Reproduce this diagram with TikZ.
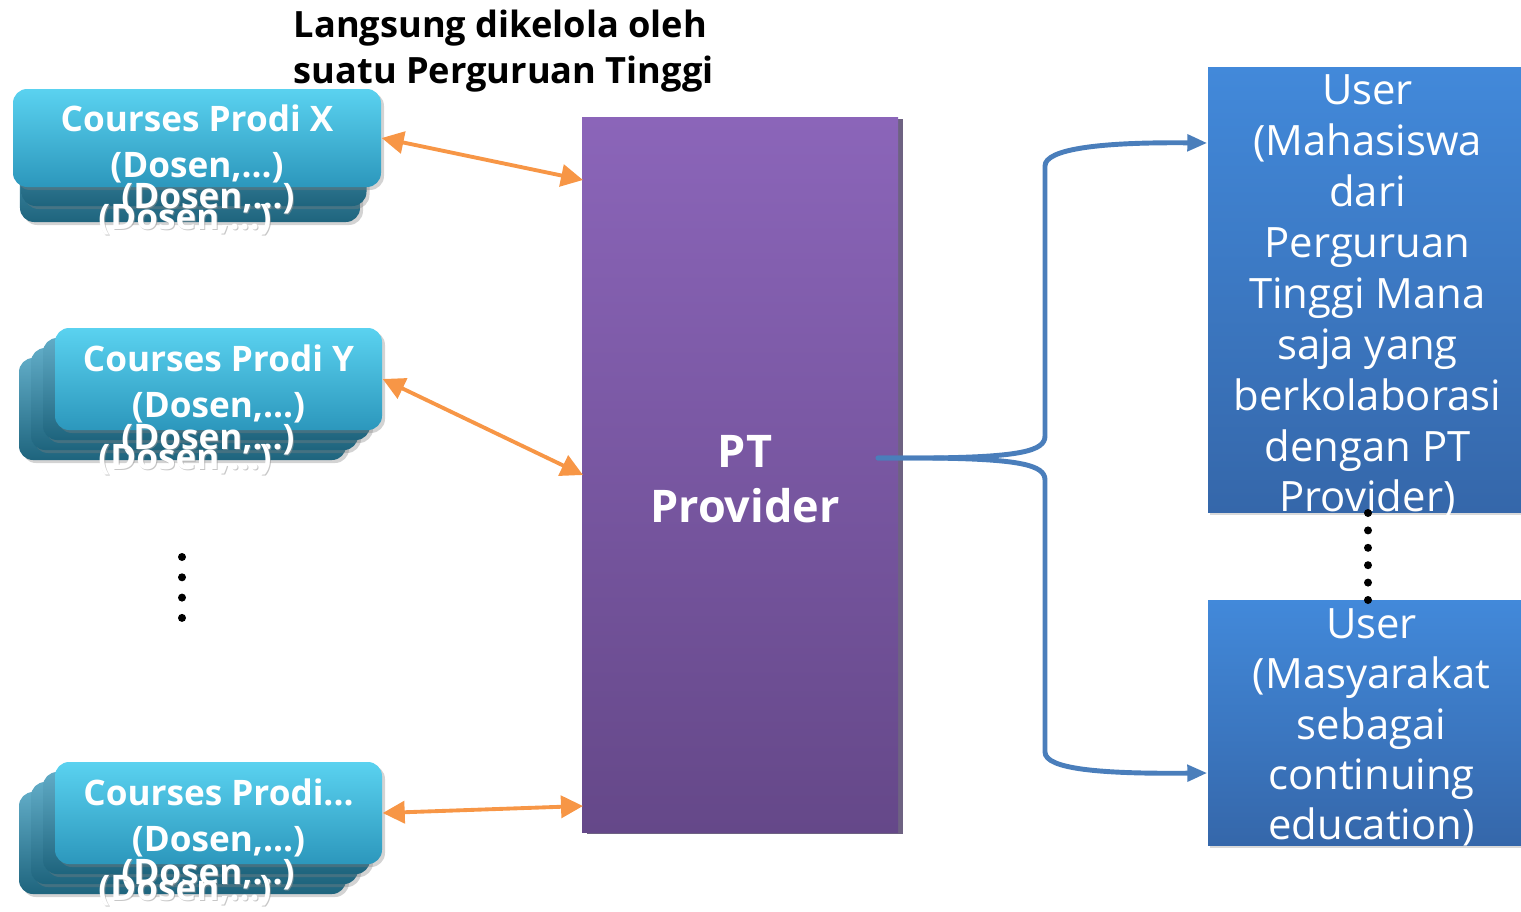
\documentclass[tikz,border=0pt]{standalone}
\usepackage{fontspec}
\setmainfont{Open Sans}
\usetikzlibrary{arrows.meta,calc,positioning,shadows}
\definecolor{courseTop}{HTML}{5AD2F0}
\definecolor{courseBot}{HTML}{2C97BC}
\definecolor{courseBack}{HTML}{2B8FB3}
\definecolor{ptTop}{HTML}{8B65B9}
\definecolor{ptBot}{HTML}{654889}
\definecolor{ptEdge}{HTML}{4A3B63}
\definecolor{userTop}{HTML}{4289DA}
\definecolor{userBot}{HTML}{3567AA}
\definecolor{linkOrange}{HTML}{F79646}
\definecolor{linkBlue}{HTML}{4A7EBB}
\tikzset{
    course diagram/.style = {>={Triangle[length=2.2mm, width=2.2mm]}},
    course font/.style    = {font=\fontsize{10}{13}\selectfont\bfseries},
    course box/.style     = {rounded corners=4pt,
                             top color=courseTop, bottom color=courseBot,
                             minimum width=3.27cm, minimum height=1.02cm,
                             inner sep=0pt,
                             drop shadow={shadow xshift=0.03cm,
                                          shadow yshift=-0.03cm, opacity=0.35}},
    back box/.style       = {course box, top color=courseBack!75!white,
                             bottom color=courseBack!70!black},
    course text/.style    = {course font, text=white, align=center, inner sep=0pt},
    ghost/.style          = {course font, text=white, inner sep=0pt},
    ghost shade/.style    = {course font, text=black!40, opacity=0.55, inner sep=0pt},
    provider/.style       = {top color=ptTop, bottom color=ptBot,
                             minimum width=3.16cm, minimum height=7.15cm,
                             inner sep=0pt,
                             drop shadow={shadow xshift=0.045cm,
                                          shadow yshift=-0.015cm, opacity=0.8,
                                          fill=ptEdge}},
    provider text/.style  = {text=white, align=center, inner sep=0pt,
                             font=\fontsize{12.8}{15.6}\selectfont\bfseries},
    user/.style           = {top color=userTop, bottom color=userBot,
                             minimum width=3.13cm, inner sep=0pt,
                             drop shadow={shadow xshift=0.02cm,
                                          shadow yshift=-0.03cm, opacity=0.3}},
    user text/.style      = {text=white, align=center, inner sep=0pt},
    headline/.style       = {font=\fontsize{10.3}{13.1}\selectfont\bfseries,
                             align=left, inner sep=0pt},
    dot/.style            = {circle, fill=black, inner sep=0pt, minimum size=0.08cm},
    link/.style           = {<->, draw=linkOrange, fill=linkOrange, line width=1.1pt},
    feed/.style           = {->, draw=linkBlue, line width=1.4pt, line cap=round,
                             >={Triangle[length=2mm, width=1.6mm]}}
}
\begin{document}
\begin{tikzpicture}[course diagram]
\useasboundingbox (0,0) rectangle (15.21,9.11);

% ================= Headline =================
\node[headline, anchor=west] (headline) at (2.93, 8.60)
    {Langsung dikelola oleh\\suatu Perguruan Tinggi};

% ================= Course stacks =================
\node[back box, minimum width=3.40cm] (prodiX back2) at (1.90, 7.40) {};
\node[back box, minimum width=3.45cm] (prodiX back1) at (1.94, 7.56) {};
\node[course box, minimum width=3.68cm, minimum height=0.98cm] (prodiX) at (1.97, 7.73) {};
\node[course text] (prodiX text) at ([yshift=-0.06cm]prodiX.center)
    {Courses Prodi X\\(Dosen,...)};
\node[ghost shade] (prodiX shade1) at (2.09, 7.11) {(Dosen,...)};
\node[ghost] (prodiX ghost1) at (2.08, 7.12) {(Dosen,...)};
\node[ghost shade] (prodiX shade2) at (1.86, 6.90) {(Dosen,...)};
\node[ghost] (prodiX ghost2) at (1.85, 6.91) {(Dosen,...)};

\foreach \k in {3,2,1}
    \node[back box] (prodiY back\k) at (2.185-0.12*\k, 5.32-0.10*\k) {};
\node[course box] (prodiY) at (2.185, 5.32) {};
\node[course text] (prodiY text) at ([yshift=-0.05cm]prodiY.center)
    {Courses Prodi Y\\(Dosen,...)};
\node[ghost shade] (prodiY shade1) at (2.09, 4.70) {(Dosen,...)};
\node[ghost] (prodiY ghost1) at (2.08, 4.71) {(Dosen,...)};
\node[ghost shade] (prodiY shade2) at (1.86, 4.50) {(Dosen,...)};
\node[ghost] (prodiY ghost2) at (1.85, 4.51) {(Dosen,...)};

\foreach \k in {3,2,1}
    \node[back box] (prodiN back\k) at (2.185-0.12*\k, 0.98-0.10*\k) {};
\node[course box] (prodiN) at (2.185, 0.98) {};
\node[course text] (prodiN text) at ([yshift=-0.05cm]prodiN.center)
    {Courses Prodi...\\(Dosen,...)};
\node[ghost shade] (prodiN shade1) at (2.09, 0.35) {(Dosen,...)};
\node[ghost] (prodiN ghost1) at (2.08, 0.36) {(Dosen,...)};
\node[ghost shade] (prodiN shade2) at (1.86, 0.19) {(Dosen,...)};
\node[ghost] (prodiN ghost2) at (1.85, 0.20) {(Dosen,...)};

\foreach \i in {0,...,3}
    \node[dot] (dotL\i) at (1.82, 3.54-0.203*\i) {};

% ================= Provider =================
\node[provider] (pt) at (7.40, 4.365) {};
\node[provider text] (pt text) at ([xshift=0.05cm, yshift=-0.05cm]pt.center)
    {PT\\Provider};
\coordinate (pt inX) at (5.83, 7.31);
\coordinate (pt inY) at (5.83, 4.36);
\coordinate (pt inN) at (5.83, 1.05);

\draw[link] (prodiX.east) -- (pt inX);
\draw[link] (prodiY.east) -- (pt inY);
\draw[link] (prodiN.east) -- (pt inN);

% ================= Users =================
\node[user, minimum height=4.45cm] (user1) at (13.645, 6.215) {};
\node[user text, font=\fontsize{11.9}{14.5}\selectfont] (user1 text)
    at ([xshift=0.03cm, yshift=-0.07cm]user1.center)
    {User\\(Mahasiswa\\dari\\Perguruan\\Tinggi Mana\\saja yang\\berkolaborasi\\dengan PT\\Provider)};
\node[user, minimum height=2.45cm] (user2) at (13.645, 1.885) {};
\node[user text, font=\fontsize{11.9}{14.3}\selectfont] (user2 text)
    at ([xshift=0.07cm, yshift=-0.05cm]user2.center)
    {User\\(Masyarakat\\sebagai\\continuing\\education)};

\foreach \i in {0,...,5}
    \node[dot] (dotR\i) at (13.68, 3.98-0.174*\i) {};

% ================= Distribution brace =================
\coordinate (brace start) at (8.78, 4.53);
\coordinate (user1 in) at (user1.west |- 0, 7.68);
\coordinate (user2 in) at (user2.west |- 0, 1.38);
\draw[feed] (brace start) -- (9.3, 4.53)
    .. controls (10.2, 4.54) and (10.45, 4.60) .. (10.45, 4.75) -- (10.45, 7.45)
    .. controls (10.45, 7.62) and (11.0, 7.69) .. (user1 in);
\draw[feed] (brace start) -- (9.3, 4.53)
    .. controls (10.2, 4.52) and (10.45, 4.46) .. (10.45, 4.31) -- (10.45, 1.59)
    .. controls (10.45, 1.42) and (11.0, 1.37) .. (user2 in);

\end{tikzpicture}
\end{document}
